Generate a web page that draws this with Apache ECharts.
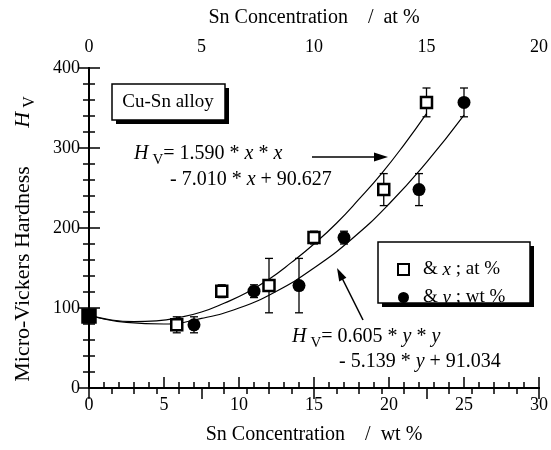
<!DOCTYPE html>
<html>
<head>
<meta charset="utf-8">
<script src="https://cdn.jsdelivr.net/npm/echarts@6.0.0/dist/echarts.min.js"></script>
<style>
html, body { margin: 0; padding: 0; background: #fff; }
#chartArea { width: 551px; height: 450px; }
</style>
</head>
<body>
<div id="chartArea"></div>
<script>
// measured points (same samples, two concentration scales)
var wtConc = [0, 7, 11, 14, 17, 22, 25];
var atConc = [0, 3.9, 5.9, 8.0, 10.0, 13.1, 15.0];
var hardness = [90, 79, 121, 128, 188, 248, 357];
var hardErr = [0, 10, 8, 34, 8, 20, 18];

// fitted curves
var fitAt = [0, 1, 2, 3, 4, 5, 6, 7, 8, 9, 10, 11, 12, 13, 14, 15];
var fitAtHv = [91, 85, 83, 84, 88, 95, 106, 119, 136, 157, 180, 206, 236, 268, 304, 343];
var fitWt = [0, 2.5, 5, 7.5, 10, 12.5, 15, 17.5, 20, 22.5, 25];
var fitWtHv = [91, 82, 80, 87, 100, 121, 150, 186, 230, 282, 341];

var font = 'Liberation Serif';

var dom = document.getElementById('chartArea');
var myChart = echarts.init(dom);

function pairs(xs, ys) {
    var out = [];
    for (var i = 0; i < xs.length; i++) {
        out.push([xs[i], ys[i]]);
    }
    return out;
}

function errData(xs) {
    var out = [];
    for (var i = 0; i < xs.length; i++) {
        if (hardErr[i] > 0) {
            out.push([xs[i], hardness[i] - hardErr[i], hardness[i] + hardErr[i]]);
        }
    }
    return out;
}

function renderErr(params, api) {
    var lo = api.coord([api.value(0), api.value(1)]);
    var hi = api.coord([api.value(0), api.value(2)]);
    var w = 4;
    var st = { stroke: '#000', lineWidth: 1.3 };
    return {
        type: 'group',
        children: [
            { type: 'line', shape: { x1: lo[0], y1: lo[1], x2: hi[0], y2: hi[1] }, style: st },
            { type: 'line', shape: { x1: lo[0] - w, y1: lo[1], x2: lo[0] + w, y2: lo[1] }, style: st },
            { type: 'line', shape: { x1: hi[0] - w, y1: hi[1], x2: hi[0] + w, y2: hi[1] }, style: st }
        ]
    };
}

// square points: the first one (pure Cu) is drawn filled
var atPoints = pairs(atConc, hardness).map(function (p, i) {
    if (i === 0) {
        return { value: p, symbolSize: 13, itemStyle: { color: '#000' } };
    }
    return p;
});

var tickLine = { show: true, lineStyle: { color: '#000', width: 2 } };
var majorTick = { show: true, inside: true, length: 11, lineStyle: { color: '#000', width: 1.5 } };
var minorTick = { show: true, splitNumber: 5, length: 6, lineStyle: { color: '#000', width: 1.5 } };
var labelStyle = { color: '#000', fontFamily: font, fontSize: 18 };
var nameStyle = { color: '#000', fontFamily: font, fontSize: 20 };

var eqRich = {
    n: { fontFamily: font, fontSize: 20, color: '#000' },
    i: { fontFamily: font, fontSize: 20, fontStyle: 'italic', color: '#000' },
    s: { fontFamily: font, fontSize: 15, color: '#000', padding: [12, 0, 0, 4] }
};

var yRich = {
    i: { fontFamily: font, fontSize: 22, fontStyle: 'italic', color: '#000' },
    s: { fontFamily: font, fontSize: 16, color: '#000', padding: [13, 0, 0, 4] }
};

var option = {
    animation: false,
    backgroundColor: '#fff',
    grid: { left: 89, right: 10, top: 68, bottom: 62 },
    xAxis: [
        {
            type: 'value', position: 'bottom', min: 0, max: 30, interval: 5,
            name: 'Sn Concentration    /  wt %', nameLocation: 'middle', nameGap: 37,
            nameTextStyle: nameStyle,
            axisLine: tickLine, axisTick: majorTick, minorTick: minorTick,
            splitLine: { show: false },
            axisLabel: { margin: 8, textStyle: labelStyle }
        },
        {
            type: 'value', position: 'top', min: 0, max: 20, interval: 5,
            name: 'Sn Concentration    /  at %', nameLocation: 'middle', nameGap: 40,
            nameTextStyle: nameStyle,
            axisLine: tickLine, axisTick: majorTick, minorTick: minorTick,
            splitLine: { show: false },
            axisLabel: { margin: 12, textStyle: labelStyle }
        }
    ],
    yAxis: [
        {
            type: 'value', position: 'left', min: 0, max: 400, interval: 100,
            axisLine: tickLine, axisTick: majorTick, minorTick: minorTick,
            splitLine: { show: false },
            axisLabel: { margin: 9, textStyle: labelStyle }
        },
        {
            type: 'value', position: 'right', min: 0, max: 400, interval: 100,
            axisLine: tickLine, axisTick: majorTick, minorTick: minorTick,
            splitLine: { show: false },
            axisLabel: { show: false }
        }
    ],
    legend: {
        orient: 'vertical',
        left: 392, top: 255,
        itemWidth: 11, itemHeight: 11, itemGap: 9,
        data: ['at', 'wt'],
        formatter: function (name) {
            return name === 'at' ? '& {i|x} ; at %' : '& {i|y} ; wt %';
        },
        textStyle: {
            color: '#000', fontFamily: font, fontSize: 19, padding: [0, 0, 0, 9],
            rich: { i: { fontFamily: font, fontSize: 19, fontStyle: 'italic', color: '#000' } }
        }
    },
    graphic: [
        // y axis title
        {
            type: 'text', x: 23, y: 239, rotation: Math.PI / 2,
            style: {
                text: 'Micro-Vickers Hardness       {i|H}{s|V}',
                fontFamily: font, fontSize: 22, fill: '#000',
                align: 'center', verticalAlign: 'middle',
                rich: yRich
            }
        },
        // Cu-Sn alloy box
        { type: 'rect', shape: { x: 116, y: 88, width: 113, height: 36 }, style: { fill: '#000' } },
        { type: 'rect', shape: { x: 112, y: 84, width: 113, height: 36 }, style: { fill: '#fff', stroke: '#000', lineWidth: 1.5 } },
        {
            type: 'text', x: 168, y: 102,
            style: { text: 'Cu-Sn alloy', fontFamily: font, fontSize: 19, fill: '#000', align: 'center', verticalAlign: 'middle' }
        },
        // legend box
        { type: 'rect', shape: { x: 382, y: 246, width: 152, height: 61 }, style: { fill: '#000' } },
        { type: 'rect', shape: { x: 378, y: 242, width: 152, height: 61 }, style: { fill: '#fff', stroke: '#000', lineWidth: 1.5 } },
        // fit equations
        {
            type: 'text', x: 134, y: 154,
            style: {
                text: '{i|H}{s|V}{n|= 1.590 * }{i|x}{n| * }{i|x}',
                align: 'left', verticalAlign: 'middle', rich: eqRich
            }
        },
        {
            type: 'text', x: 170, y: 180,
            style: {
                text: '{n|- 7.010 * }{i|x}{n| + 90.627}',
                align: 'left', verticalAlign: 'middle', rich: eqRich
            }
        },
        {
            type: 'text', x: 292, y: 337,
            style: {
                text: '{i|H}{s|V}{n|= 0.605 * }{i|y}{n| * }{i|y}',
                align: 'left', verticalAlign: 'middle', rich: eqRich
            }
        },
        {
            type: 'text', x: 339, y: 362,
            style: {
                text: '{n|- 5.139 * }{i|y}{n| + 91.034}',
                align: 'left', verticalAlign: 'middle', rich: eqRich
            }
        },
        // arrows
        { type: 'line', shape: { x1: 312, y1: 157, x2: 376, y2: 157 }, style: { stroke: '#000', lineWidth: 1.5 } },
        { type: 'polygon', shape: { points: [[388, 157], [374, 152.5], [374, 161.5]] }, style: { fill: '#000' } },
        { type: 'line', shape: { x1: 363, y1: 320, x2: 342, y2: 278 }, style: { stroke: '#000', lineWidth: 1.5 } },
        { type: 'polygon', shape: { points: [[337, 268], [346.4, 277.8], [339.2, 281.4]] }, style: { fill: '#000' } }
    ],
    series: [
        {
            name: 'fitAt', type: 'line', xAxisIndex: 1, yAxisIndex: 0,
            data: pairs(fitAt, fitAtHv), smooth: true, showSymbol: false, silent: true,
            lineStyle: { color: '#000', width: 1.2 }
        },
        {
            name: 'fitWt', type: 'line', xAxisIndex: 0, yAxisIndex: 0,
            data: pairs(fitWt, fitWtHv), smooth: true, showSymbol: false, silent: true,
            lineStyle: { color: '#000', width: 1.2 }
        },
        {
            name: 'errAt', type: 'custom', xAxisIndex: 1, yAxisIndex: 0,
            renderItem: renderErr, encode: { x: 0, y: [1, 2] }, data: errData(atConc), z: 3
        },
        {
            name: 'errWt', type: 'custom', xAxisIndex: 0, yAxisIndex: 0,
            renderItem: renderErr, encode: { x: 0, y: [1, 2] }, data: errData(wtConc), z: 3
        },
        {
            name: 'wt', type: 'scatter', xAxisIndex: 0, yAxisIndex: 0, clip: false,
            symbol: 'circle', symbolSize: 13, data: pairs(wtConc, hardness), z: 4,
            itemStyle: { color: '#000', opacity: 1 }
        },
        {
            name: 'at', type: 'scatter', xAxisIndex: 1, yAxisIndex: 0, clip: false,
            symbol: 'rect', symbolSize: 11, data: atPoints, z: 5,
            itemStyle: { color: '#fff', borderColor: '#000', borderWidth: 2.5, opacity: 1 }
        }
    ]
};

myChart.setOption(option);
</script>
</body>
</html>
